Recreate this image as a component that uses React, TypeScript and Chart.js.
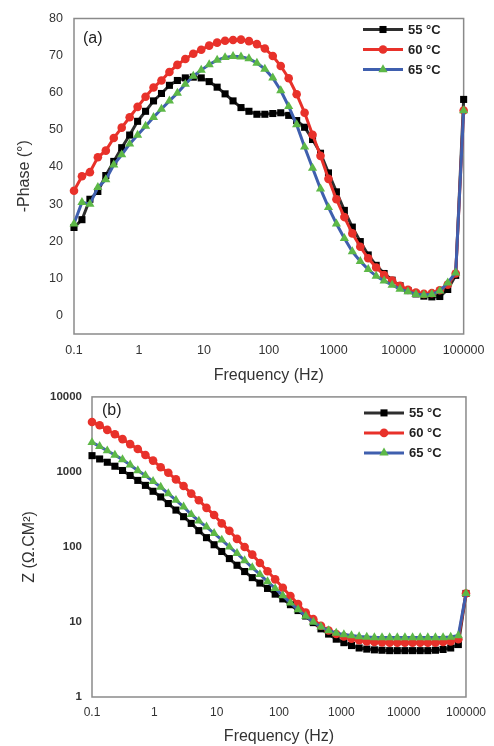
import React, { useEffect, useRef } from "react";
import { Chart, registerables } from "chart.js";

Chart.register(...registerables);

// ---------------- data ----------------
const freqHz = [
  0.1, 0.1326, 0.1758, 0.233, 0.3089, 0.4095, 0.5429, 0.7197, 0.9541, 1.265,
  1.677, 2.223, 2.947, 3.907, 5.179, 6.866, 9.103, 12.07, 16.0, 21.21,
  28.12, 37.28, 49.42, 65.52, 86.86, 115.1, 152.6, 202.3, 268.3, 355.6,
  471.5, 625.1, 828.7, 1099, 1456, 1931, 2560, 3393, 4499, 5964,
  7907, 10481, 13895, 18421, 24421, 32374, 42919, 56898, 75431, 100000,
];

const seriesLabels = ["55 °C", "60 °C", "65 °C"];

const phase55 = [
  23.7, 25.8, 31.3, 33.4, 37.7, 41.5, 45.2, 48.6, 52.3, 55.0,
  57.8, 59.8, 62.0, 63.3, 64.0, 64.2, 64.0, 63.0, 61.5, 59.7,
  57.8, 56.0, 55.0, 54.2, 54.2, 54.4, 54.6, 53.9, 52.5, 50.7,
  47.4, 43.7, 38.4, 33.3, 28.3, 23.8, 19.9, 16.3, 13.5, 11.3,
  9.5, 8.0, 6.7, 5.8, 5.2, 5.0, 5.1, 7.0, 10.8, 58.2,
];
const phase60 = [
  33.6, 37.5, 38.6, 42.6, 44.4, 47.8, 50.6, 53.4, 56.2, 58.9,
  61.4, 63.3, 65.6, 67.5, 69.1, 70.5, 71.6, 72.7, 73.5, 74.0,
  74.2, 74.3, 73.9, 73.1, 71.9, 69.9, 67.2, 63.9, 59.6, 54.6,
  48.7, 43.0, 36.8, 31.3, 26.5, 22.1, 18.5, 15.4, 12.9, 10.9,
  9.4, 8.0, 6.9, 6.2, 5.8, 6.0, 6.8, 8.3, 11.3, 55.2,
];
const phase65 = [
  24.7, 30.5, 30.0, 34.5, 36.6, 40.6, 43.3, 46.2, 48.6, 51.0,
  53.4, 55.6, 57.8, 59.9, 62.3, 64.5, 66.1, 67.6, 68.8, 69.5,
  69.8, 69.7, 69.2, 68.0, 66.4, 64.0, 60.6, 56.3, 51.4, 45.4,
  39.7, 34.1, 29.1, 24.7, 20.8, 17.2, 14.6, 12.4, 10.6, 9.3,
  8.2, 7.1, 6.4, 5.7, 5.5, 5.7, 6.6, 8.8, 11.5, 55.2,
];

const z55 = [
  1648, 1489, 1346, 1192, 1045, 897, 771, 662, 552, 464,
  379, 310, 253, 206, 165, 133, 107, 87, 70, 57,
  47, 39, 33, 28, 23.5, 20.3, 17.0, 14.2, 12.0, 9.8,
  8.1, 6.9, 5.9, 5.3, 4.85, 4.5, 4.35, 4.25, 4.2, 4.15,
  4.15, 4.15, 4.15, 4.15, 4.15, 4.2, 4.3, 4.5, 5.0, 24,
];
const z60 = [
  4634, 4180, 3634, 3183, 2735, 2349, 2017, 1680, 1416, 1156,
  973, 795, 649, 514, 420, 332, 266, 206, 164, 128,
  100, 79, 61, 47.5, 37, 28.6, 22.2, 17.3, 13.4, 10.9,
  8.9, 7.7, 6.9, 6.4, 6.0, 5.7, 5.5, 5.4, 5.35, 5.3,
  5.3, 5.3, 5.3, 5.3, 5.3, 5.3, 5.4, 5.5, 5.9, 24,
];
const z65 = [
  2471, 2188, 1919, 1680, 1459, 1240, 1045, 897, 748, 629,
  514, 420, 343, 271, 222, 185, 152, 124, 100, 82,
  66, 53, 43, 34.5, 28, 22.5, 18, 14.6, 12.0, 10.0,
  8.6, 7.7, 7.1, 6.8, 6.6, 6.4, 6.3, 6.2, 6.2, 6.2,
  6.2, 6.2, 6.2, 6.2, 6.2, 6.2, 6.2, 6.3, 6.6, 24,
];

const xTickValues = [0.1, 1, 10, 100, 1000, 10000, 100000];
const xTickLabels = ["0.1", "1", "10", "100", "1000", "10000", "100000"];
const phaseTickValues = [0, 10, 20, 30, 40, 50, 60, 70, 80];
const zTickValues = [1, 10, 100, 1000, 10000];
const zTickLabels = ["1", "10", "100", "1000", "10000"];

// ---------------- styles ----------------
const FONT = "'Liberation Sans', Arial, Helvetica, sans-serif";
const TEXT = "#333333";
const seriesStyles = [
  { line: "#2e2e2e", point: "#000000", shape: "rect", radius: 5 },
  { line: "#e8312a", point: "#e8312a", shape: "circle", radius: 4.3 },
  { line: "#3f5fae", point: "#5db847", shape: "triangle", radius: 5.3 },
];

function makeDatasets(values: number[][]) {
  return values.map((vals, i) => {
    const s = seriesStyles[i];
    return {
      label: seriesLabels[i],
      data: freqHz.map((f, k) => ({ x: f, y: vals[k] })),
      borderColor: s.line,
      backgroundColor: s.point,
      borderWidth: 3,
      tension: 0,
      pointStyle: s.shape,
      pointRadius: s.radius,
      pointBackgroundColor: s.point,
      pointBorderColor: s.point,
      pointBorderWidth: 0,
      clip: false as any,
      order: 3 - i,
    };
  });
}

function drawMarker(ctx: CanvasRenderingContext2D, shape: string, x: number, y: number, r: number) {
  ctx.beginPath();
  if (shape === "rect") {
    const h = r * Math.SQRT1_2;
    ctx.rect(x - h, y - h, 2 * h, 2 * h);
  } else if (shape === "circle") {
    ctx.arc(x, y, r, 0, Math.PI * 2);
  } else {
    for (let j = 0; j < 3; j++) {
      const a = (j * 2 * Math.PI) / 3;
      const px = x + Math.sin(a) * r;
      const py = y - Math.cos(a) * r;
      if (j === 0) ctx.moveTo(px, py);
      else ctx.lineTo(px, py);
    }
    ctx.closePath();
  }
  ctx.fill();
}

const decorPlugin = {
  id: "decor",
  beforeDatasetsDraw(chart: any) {
    const { ctx, chartArea: a } = chart;
    ctx.save();
    ctx.strokeStyle = "#8a8a8a";
    ctx.lineWidth = 1.5;
    ctx.strokeRect(a.left, a.top, a.right - a.left, a.bottom - a.top);
    ctx.restore();
  },
  afterDatasetsDraw(chart: any, _args: any, opts: any) {
    const { ctx, chartArea: a } = chart;
    ctx.save();
    ctx.fillStyle = "#222222";
    ctx.font = `16px ${FONT}`;
    ctx.textAlign = "left";
    ctx.textBaseline = "middle";
    ctx.fillText(opts.tag, a.left + opts.tagDx, a.top + opts.tagDy);

    chart.data.datasets.forEach((ds: any, i: number) => {
      const s = seriesStyles[i];
      const y = a.top + opts.legendTop + i * opts.legendGap;
      const x0 = opts.legendX;
      const x1 = x0 + 40;
      ctx.strokeStyle = s.line;
      ctx.lineWidth = 3;
      ctx.beginPath();
      ctx.moveTo(x0, y);
      ctx.lineTo(x1, y);
      ctx.stroke();
      ctx.fillStyle = s.point;
      drawMarker(ctx, s.shape, (x0 + x1) / 2, y, s.radius);
      ctx.fillStyle = "#222222";
      ctx.font = `bold 13px ${FONT}`;
      ctx.fillText(ds.label, x1 + 5, y + 0.5);
    });
    ctx.restore();
  },
};

function phaseConfig(): any {
  return {
    type: "line",
    data: { datasets: makeDatasets([phase55, phase60, phase65]) },
    plugins: [decorPlugin],
    options: {
      responsive: false,
      animation: false,
      devicePixelRatio: 1,
      layout: { padding: { top: 13, right: 23, bottom: 7, left: 0 } },
      plugins: {
        legend: { display: false },
        tooltip: { enabled: false },
        decor: { tag: "(a)", tagDx: 9, tagDy: 20, legendX: 363, legendTop: 11, legendGap: 20 },
      },
      scales: {
        x: {
          type: "logarithmic",
          min: 0.1,
          max: 100000,
          afterBuildTicks: (s: any) => {
            s.ticks = xTickValues.map((v) => ({ value: v }));
          },
          afterFit: (s: any) => {
            s.height = 51;
          },
          grid: { display: false, drawTicks: false },
          border: { display: false },
          ticks: {
            autoSkip: false,
            maxRotation: 0,
            padding: 9.5,
            color: TEXT,
            font: { family: FONT, size: 12.5 },
            callback: (_v: any, i: number) => xTickLabels[i],
          },
          title: {
            display: true,
            text: "Frequency (Hz)",
            color: TEXT,
            font: { family: FONT, size: 16 },
            padding: { top: 0, bottom: 0 },
          },
        },
        y: {
          type: "linear",
          min: -5,
          max: 80,
          afterBuildTicks: (s: any) => {
            s.ticks = phaseTickValues.map((v) => ({ value: v }));
          },
          afterFit: (s: any) => {
            s.width = 74;
          },
          grid: { display: false, drawTicks: false },
          border: { display: false },
          ticks: {
            padding: 11,
            color: TEXT,
            font: { family: FONT, size: 12.5 },
            callback: (_v: any, i: number) => String(phaseTickValues[i]),
          },
          title: {
            display: true,
            text: "-Phase (°)",
            color: TEXT,
            font: { family: FONT, size: 16 },
            padding: { top: 15, bottom: 0 },
          },
        },
      },
    },
  };
}

function impedanceConfig(): any {
  return {
    type: "line",
    data: { datasets: makeDatasets([z55, z60, z65]) },
    plugins: [decorPlugin],
    options: {
      responsive: false,
      animation: false,
      devicePixelRatio: 1,
      layout: { padding: { top: 14, right: 25, bottom: 0, left: 0 } },
      plugins: {
        legend: { display: false },
        tooltip: { enabled: false },
        decor: { tag: "(b)", tagDx: 10, tagDy: 14, legendX: 364, legendTop: 16, legendGap: 20 },
      },
      scales: {
        x: {
          type: "logarithmic",
          min: 0.1,
          max: 100000,
          afterBuildTicks: (s: any) => {
            s.ticks = xTickValues.map((v) => ({ value: v }));
          },
          afterFit: (s: any) => {
            s.height = 49;
          },
          grid: { display: false, drawTicks: false },
          border: { display: false },
          ticks: {
            autoSkip: false,
            maxRotation: 0,
            padding: 8,
            color: TEXT,
            font: { family: FONT, size: 12 },
            callback: (_v: any, i: number) => xTickLabels[i],
          },
          title: {
            display: true,
            text: "Frequency (Hz)",
            color: TEXT,
            font: { family: FONT, size: 16 },
            padding: { top: 0, bottom: 0 },
          },
        },
        y: {
          type: "logarithmic",
          min: 1,
          max: 10000,
          afterBuildTicks: (s: any) => {
            s.ticks = zTickValues.map((v) => ({ value: v }));
          },
          afterFit: (s: any) => {
            s.width = 92;
          },
          grid: { display: false, drawTicks: false },
          border: { display: false },
          ticks: {
            padding: 10,
            color: TEXT,
            font: { family: FONT, size: 11.5, weight: "bold" },
            callback: (_v: any, i: number) => zTickLabels[i],
          },
          title: {
            display: true,
            text: "Z (Ω.CM²)",
            color: TEXT,
            font: { family: FONT, size: 16 },
            padding: { top: 20, bottom: 0 },
          },
        },
      },
    },
  };
}

function ChartCanvas({ top, height, makeConfig }: { top: number; height: number; makeConfig: () => any }) {
  const ref = useRef<HTMLCanvasElement | null>(null);
  useEffect(() => {
    if (!ref.current) return;
    const chart = new Chart(ref.current, makeConfig());
    return () => chart.destroy();
  }, []);
  return (
    <canvas
      ref={ref}
      width={494}
      height={height}
      style={{ position: "absolute", left: 0, top, width: 494, height, display: "block" }}
    />
  );
}

export default function App() {
  return (
    <div
      style={{
        position: "fixed",
        left: 0,
        top: 0,
        width: 494,
        height: 746,
        background: "#ffffff",
        overflow: "hidden",
      }}
    >
      <ChartCanvas top={0} height={392} makeConfig={phaseConfig} />
      <ChartCanvas top={380} height={366} makeConfig={impedanceConfig} />
    </div>
  );
}
